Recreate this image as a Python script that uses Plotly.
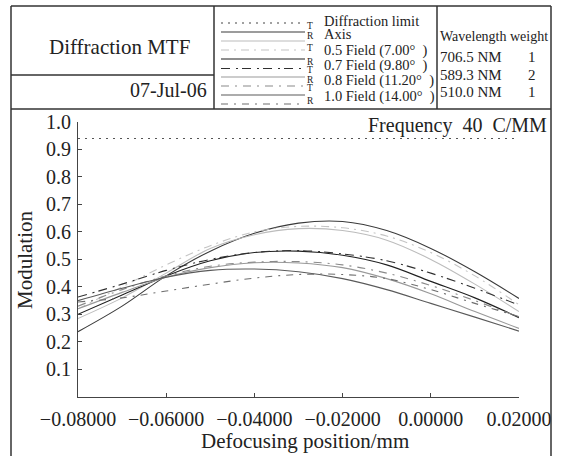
import plotly.graph_objects as go

W, H = 563, 456

# ---- data ----
defocus = [-0.08, -0.07, -0.06, -0.05, -0.04, -0.03, -0.02, -0.01, 0.0, 0.01, 0.02]
diffraction_limit = 0.94
axis_t = [0.237, 0.33, 0.44, 0.53, 0.595, 0.632, 0.638, 0.605, 0.54, 0.455, 0.358]
axis_r = [0.285, 0.36, 0.45, 0.54, 0.59, 0.612, 0.605, 0.57, 0.50, 0.41, 0.31]
f05_t = [0.32, 0.40, 0.48, 0.55, 0.60, 0.62, 0.615, 0.585, 0.525, 0.44, 0.335]
f05_r = [0.30, 0.37, 0.44, 0.495, 0.525, 0.53, 0.515, 0.48, 0.42, 0.36, 0.288]
f07_t = [0.363, 0.41, 0.46, 0.50, 0.525, 0.532, 0.52, 0.495, 0.45, 0.395, 0.334]
f07_r = [0.32, 0.38, 0.435, 0.47, 0.488, 0.487, 0.47, 0.43, 0.375, 0.31, 0.249]
f08_t = [0.33, 0.39, 0.44, 0.475, 0.49, 0.492, 0.48, 0.45, 0.405, 0.35, 0.29]
f08_r = [0.35, 0.395, 0.435, 0.46, 0.465, 0.455, 0.43, 0.39, 0.34, 0.29, 0.239]
f10_t = [0.345, 0.36, 0.385, 0.41, 0.432, 0.445, 0.445, 0.43, 0.39, 0.34, 0.292]

x_ticks = [-0.08, -0.06, -0.04, -0.02, 0.0, 0.02]
x_ticktext = ["\u22120.08000", "\u22120.06000", "\u22120.04000", "\u22120.02000", "0.00000", "0.02000"]
y_ticks = [0.1, 0.2, 0.3, 0.4, 0.5, 0.6, 0.7, 0.8, 0.9, 1.0]
y_ticktext = ["0.1", "0.2", "0.3", "0.4", "0.5", "0.6", "0.7", "0.8", "0.9", "1.0"]

legend_labels = ["Diffraction limit", "Axis", "0.5 Field (7.00\u00b0\u00a0\u00a0)",
                 "0.7 Field (9.80\u00b0\u00a0\u00a0)", "0.8 Field (11.20\u00b0\u00a0\u00a0)",
                 "1.0 Field (14.00\u00b0\u00a0\u00a0)"]
wavelengths = ["706.5 NM", "589.3 NM", "510.0 NM"]
weights = ["1", "2", "1"]

# ---- styles (series order) ----
series = [
    (axis_t, "#3a3a3a", "solid"),
    (axis_r, "#bcbcbc", "solid"),
    (f05_t, "#c4c4c4", "8px,5px,2px,5px"),
    (f05_r, "#202020", "solid"),
    (f07_t, "#303030", "9px,6px,2px,4px"),
    (f07_r, "#999999", "solid"),
    (f08_t, "#8a8a8a", "8px,6px,2px,6px"),
    (f08_r, "#5a5a5a", "solid"),
    (f10_t, "#6e6e6e", "7px,6px,2px,6px"),
]
FONT = "Liberation Serif"

fig = go.Figure()
fig.add_trace(go.Scatter(x=[defocus[0], defocus[-1]], y=[diffraction_limit] * 2, mode="lines",
                         line=dict(color="#555555", width=1.2, dash="2px,5px"), showlegend=False))
for ys, col, dash in series:
    fig.add_trace(go.Scatter(x=defocus, y=ys, mode="lines", line_shape="spline",
                             line=dict(color=col, width=1.1, dash=dash), showlegend=False))

def px(x):
    return x / W

def py(y):
    return 1 - y / H

shapes = []
LC = "#333333"
def line(x0, y0, x1, y1, color=LC, width=1.5, dash="solid"):
    shapes.append(dict(type="line", xref="paper", yref="paper", x0=px(x0), y0=py(y0),
                       x1=px(x1), y1=py(y1), line=dict(color=color, width=width, dash=dash)))

# frame
line(11, 6, 551, 6)
line(11, 6, 11, 460)
line(551, 6, 551, 460)
line(11, 109, 551, 109)
line(214, 6, 214, 109)
line(437, 6, 437, 109)
line(11, 75, 214, 75)

# legend samples
leg_y = [23, 32, 41, 50, 59, 68.5, 77, 86, 95, 104]
leg_styles = [("#444444", "2px,5px")] + [(c, d) for _, c, d in series]
for yy, (c, d) in zip(leg_y, leg_styles):
    line(221, yy, 305, yy, color=c, width=1.2, dash=d)

annotations = []
def text(s, x, y, size, xanchor="center", color="#222222", angle=0):
    annotations.append(dict(text=s, x=px(x), y=py(y), xref="paper", yref="paper", showarrow=False,
                            xanchor=xanchor, yanchor="middle", textangle=angle,
                            font=dict(family=FONT, size=size, color=color)))

text("Diffraction MTF", 119, 47, 21)
text("07-Jul-06", 209, 90, 20, xanchor="right")
for lab, yy in zip(legend_labels, [21, 34, 50, 65, 81, 96]):
    text(lab, 322, yy, 14.5, xanchor="left")
for lab, yy in zip(["T", "R", "T", "R", "T", "R", "T", "R"], [26, 36, 48, 62, 70, 80, 88, 101]):
    text(lab, 310, yy, 9.5)
text("Wavelength weight", 438, 37, 14, xanchor="left")
for wl, wt, yy in zip(wavelengths, weights, [57, 75, 92]):
    text(wl, 438, yy, 15, xanchor="left")
    text(wt, 532, yy, 15)
text("Frequency\u00a0\u00a040\u00a0\u00a0C/MM", 549, 125, 20, xanchor="right")
text("Modulation", 25, 260, 21, angle=-90)
text("Defocusing position/mm", 305, 441, 21)

x0p, x1p = 78, 519
ybot, ytop = 396.8, 122
fig.update_layout(
    width=W, height=H, margin=dict(l=0, r=0, t=0, b=0, autoexpand=False),
    paper_bgcolor="white", plot_bgcolor="white",
    font=dict(family=FONT),
    shapes=shapes, annotations=annotations,
    xaxis=dict(domain=[x0p / W, x1p / W], range=[-0.08, 0.02], showgrid=False, zeroline=False,
               automargin=False, tickangle=0,
               showline=True, linecolor="#444444", linewidth=1.2, ticks="inside", ticklen=4,
               tickcolor="#444444", tickvals=x_ticks, ticktext=x_ticktext,
               tickfont=dict(family=FONT, size=20, color="#222222"), ticklabelstandoff=4),
    yaxis=dict(domain=[1 - ybot / H, 1 - ytop / H], range=[0, 1], showgrid=False, zeroline=False,
               automargin=False,
               showline=True, linecolor="#444444", linewidth=1.2, ticks="inside", ticklen=4,
               tickcolor="#444444", tickvals=y_ticks, ticktext=y_ticktext,
               tickfont=dict(family=FONT, size=20, color="#222222"), ticklabelstandoff=2),
)
fig.write_html("out.html")
